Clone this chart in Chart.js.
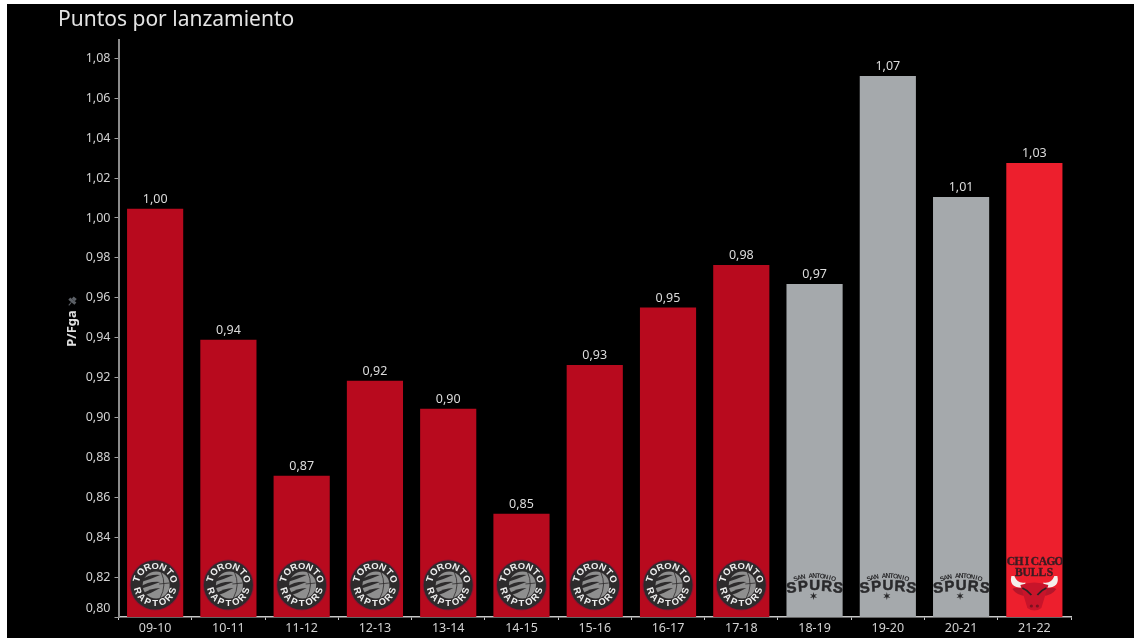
<!DOCTYPE html>
<html>
<head>
<meta charset="utf-8">
<title>Puntos por lanzamiento</title>
<script src="https://cdn.jsdelivr.net/npm/chart.js@4"></script>
<style>
  html, body { margin: 0; padding: 0; background: #fff; overflow: hidden; }
  #wrap { position: absolute; left: 7px; top: 4px; width: 1127px; height: 634px; background: #000; }
  canvas { display: block; }
</style>
</head>
<body>
<div id="wrap"><canvas id="chart" width="1127" height="634"></canvas></div>
<script>
const seasons = ["09-10", "10-11", "11-12", "12-13", "13-14", "14-15", "15-16", "16-17", "17-18", "18-19", "19-20", "20-21", "21-22"];
const pfga = [1.0044, 0.9388, 0.8706, 0.9182, 0.9042, 0.8516, 0.9262, 0.9549, 0.9763, 0.9668, 1.071, 1.0104, 1.0274];
const teams = ["raptors", "raptors", "raptors", "raptors", "raptors", "raptors", "raptors", "raptors", "raptors", "spurs", "spurs", "spurs", "bulls"];
const teamColors = { raptors: "#b80a1e", spurs: "#a5a9ac", bulls: "#ed1f2d" };

const comma = v => v.toFixed(2).replace(".", ",");

// ================= LOGOS =================
function arcText(ctx, text, radius, spread, bottom) {
  const n = text.length;
  for (let i = 0; i < n; i++) {
    const a = -spread / 2 + spread * i / (n - 1);
    ctx.save();
    if (bottom) {
      ctx.rotate(-a);
      ctx.translate(0, radius);
    } else {
      ctx.rotate(a);
      ctx.translate(0, -radius);
    }
    ctx.fillText(text[i], 0, 0);
    ctx.restore();
  }
}

function drawRaptors(ctx) {
  ctx.translate(0, -32);
  ctx.fillStyle = "#8c1230";
  ctx.beginPath(); ctx.arc(0, 0, 25.5, 0, Math.PI * 2); ctx.fill();
  ctx.fillStyle = "#2d2b2c";
  ctx.beginPath(); ctx.arc(0, 0, 24.5, 0, Math.PI * 2); ctx.fill();

  // ball
  ctx.fillStyle = "#8f8f8f";
  ctx.beginPath(); ctx.arc(1, 0, 13.5, 0, Math.PI * 2); ctx.fill();
  ctx.strokeStyle = "#2d2b2c";
  ctx.lineWidth = 0.8;
  ctx.beginPath(); ctx.moveTo(6, -13); ctx.quadraticCurveTo(12, 0, 5, 13); ctx.stroke();
  ctx.beginPath(); ctx.moveTo(4, -1); ctx.lineTo(14, -2); ctx.stroke();

  // claw cuts
  ctx.fillStyle = "#2d2b2c";
  [[-14, -5, 5, -10], [-15, 2, 5, -3], [-13, 9, 5, 3]].forEach(c => {
    ctx.beginPath();
    ctx.moveTo(c[0], c[1]);
    ctx.quadraticCurveTo(c[0] + 8, c[1] - 6, c[2], c[3]);
    ctx.quadraticCurveTo(c[0] + 10, c[1] - 1, c[0], c[1] + 2);
    ctx.closePath();
    ctx.fill();
  });

  ctx.fillStyle = "#eeeeee";
  ctx.font = "bold 9.5px 'Liberation Sans'";
  ctx.textAlign = "center";
  ctx.textBaseline = "middle";
  arcText(ctx, "TORONTO", 18.8, 2.5, false);
  arcText(ctx, "RAPTORS", 18.8, 2.5, true);
}

function drawSpurs(ctx) {
  ctx.translate(0, -30);
  ctx.fillStyle = "#2a2a2c";
  ctx.strokeStyle = "#2a2a2c";
  ctx.textAlign = "center";
  ctx.textBaseline = "middle";
  ctx.save();
  ctx.translate(0, 49);
  ctx.font = "bold 6.5px 'Liberation Sans'";
  arcText(ctx, "SAN ANTONIO", 60, 0.64, false);
  ctx.restore();

  const letters = ["S", "P", "U", "R", "S"];
  const offsets = [-23, -11.5, 0, 12, 23.5];
  const lift = [1.5, 0, -1, 0, 1.5];
  const tilt = [-0.12, -0.06, 0, 0.06, 0.12];
  ctx.font = "bold 15px 'Liberation Sans'";
  ctx.lineWidth = 0.5;
  letters.forEach((l, i) => {
    ctx.save();
    ctx.translate(offsets[i], lift[i]);
    ctx.rotate(tilt[i]);
    ctx.fillText(l, 0, 0);
    ctx.strokeText(l, 0, 0);
    ctx.restore();
  });
  // star under the U
  ctx.beginPath();
  for (let i = 0; i < 12; i++) {
    const r = i % 2 ? 1.4 : 4;
    const a = i * Math.PI / 6;
    ctx.lineTo(-1 + r * Math.sin(a), 9 - r * Math.cos(a));
  }
  ctx.fill();
}

function drawBulls(ctx) {
  ctx.translate(0, -55);
  ctx.fillStyle = "#3a1c22";
  ctx.strokeStyle = "#3a1c22";
  ctx.lineWidth = 0.4;
  ctx.textAlign = "center";
  ctx.textBaseline = "middle";
  ctx.font = "bold 11.5px 'Liberation Serif'";
  const top = "CHICAGO";
  for (let i = 0; i < top.length; i++) {
    ctx.fillText(top[i], -23.5 + i * 8, 0);
    ctx.strokeText(top[i], -23.5 + i * 8, 0);
  }
  const low = "BULLS";
  for (let i = 0; i < low.length; i++) {
    ctx.fillText(low[i], -15.5 + i * 7.8, 11);
    ctx.strokeText(low[i], -15.5 + i * 7.8, 11);
  }

  // ears
  ctx.fillStyle = "#b5162a";
  [-1, 1].forEach(s => {
    ctx.beginPath();
    ctx.moveTo(s * 7, 28);
    ctx.quadraticCurveTo(s * 18, 24, s * 22, 27);
    ctx.quadraticCurveTo(s * 17, 34, s * 8, 34);
    ctx.fill();
  });
  // horns
  ctx.fillStyle = "#f4f0ec";
  [-1, 1].forEach(s => {
    ctx.beginPath();
    ctx.moveTo(s * 23, 14);
    ctx.quadraticCurveTo(s * 26, 27, s * 9, 25.5);
    ctx.lineTo(s * 9, 20.5);
    ctx.quadraticCurveTo(s * 17, 22, s * 20, 14);
    ctx.fill();
  });
  // head
  ctx.fillStyle = "#c8142a";
  ctx.beginPath();
  ctx.moveTo(-14, 23);
  ctx.quadraticCurveTo(0, 18, 14, 23);
  ctx.lineTo(10, 36);
  ctx.lineTo(7, 46);
  ctx.quadraticCurveTo(0, 51, -7, 46);
  ctx.lineTo(-10, 36);
  ctx.closePath();
  ctx.fill();
  // eyes and nostrils
  ctx.strokeStyle = "#2b2224";
  ctx.lineWidth = 1.8;
  [-1, 1].forEach(s => {
    ctx.beginPath();
    ctx.moveTo(s * 12, 26);
    ctx.quadraticCurveTo(s * 7, 28, s * 3, 33);
    ctx.stroke();
  });
  ctx.fillStyle = "#7a1220";
  [-1, 1].forEach(s => {
    ctx.beginPath(); ctx.arc(s * 3, 44, 1.6, 0, Math.PI * 2); ctx.fill();
  });
}

const logoDrawers = { raptors: drawRaptors, spurs: drawSpurs, bulls: drawBulls };

const barExtras = {
  id: "barExtras",
  afterDatasetsDraw(chart) {
    const ctx = chart.ctx;
    const y = chart.scales.y;
    const bars = chart.getDatasetMeta(0).data;
    bars.forEach((bar, i) => {
      ctx.save();
      ctx.fillStyle = "#dcdcdc";
      ctx.font = "12.5px 'Noto Sans'";
      ctx.textAlign = "center";
      ctx.textBaseline = "middle";
      ctx.fillText(comma(pfga[i]), bar.x, bar.y - 9.5);
      ctx.restore();

      ctx.save();
      ctx.translate(bar.x, y.bottom);
      logoDrawers[teams[i]](ctx);
      ctx.restore();
    });

    // little pin next to the axis title
    ctx.save();
    ctx.translate(y.left + 14, (y.top + y.bottom) / 2 - 27);
    ctx.rotate(0.7);
    ctx.fillStyle = "#5c6066";
    ctx.fillRect(-4, -2, 8, 3);
    ctx.fillRect(-2, -5, 4, 3);
    ctx.fillRect(-0.5, 1, 1, 4);
    ctx.restore();
  }
};

// ================= CHART =================
new Chart(document.getElementById("chart"), {
  type: "bar",
  data: {
    labels: seasons,
    datasets: [{
      data: pfga,
      backgroundColor: teams.map(t => teamColors[t]),
      barThickness: 55.5,
      borderWidth: 0
    }]
  },
  options: {
    responsive: false,
    animation: false,
    layout: { padding: { left: 51, right: 63, top: 0, bottom: 0 } },
    plugins: {
      legend: { display: false },
      tooltip: { enabled: false },
      title: {
        display: true,
        text: "Puntos por lanzamiento",
        align: "start",
        color: "#e4e4e4",
        font: { family: "'Noto Sans'", size: 21, weight: "normal", lineHeight: 1.2 },
        padding: { top: 3, bottom: 7.8 }
      }
    },
    scales: {
      x: {
        afterFit(scale) { scale.height = 21; },
        border: { color: "#c8c8c8", width: 1.5 },
        grid: { offset: true, drawOnChartArea: false, color: "#c8c8c8", tickLength: 3 },
        ticks: {
          color: "#d2d2d2",
          font: { family: "'Noto Sans'", size: 12.5 },
          padding: 1,
          autoSkip: false,
          maxRotation: 0
        }
      },
      y: {
        min: 0.8,
        max: 1.0892,
        // the two-line lowest label must not push the chart area up
        afterFit(scale) { scale.width = 60.5; scale.paddingBottom = 0; },
        border: { color: "#8c8c8c", width: 2 },
        grid: { drawOnChartArea: false, color: "#a0a0a0", tickLength: 4 },
        title: {
          display: true,
          text: "P/Fga",
          color: "#e0e0e0",
          font: { family: "'Noto Sans'", size: 13, weight: "bold", lineHeight: 1.2 },
          padding: { top: 6.2, bottom: 0 }
        },
        ticks: {
          stepSize: 0.02,
          includeBounds: false,
          color: "#d2d2d2",
          font: { family: "'Noto Sans'", size: 12.5, lineHeight: 1.4 },
          padding: 4,
          // the lowest label sits just above the base line
          callback: v => Math.abs(v - 0.8) < 0.001 ? [comma(v), ""] : comma(v)
        }
      }
    }
  },
  plugins: [barExtras]
});
</script>
</body>
</html>
